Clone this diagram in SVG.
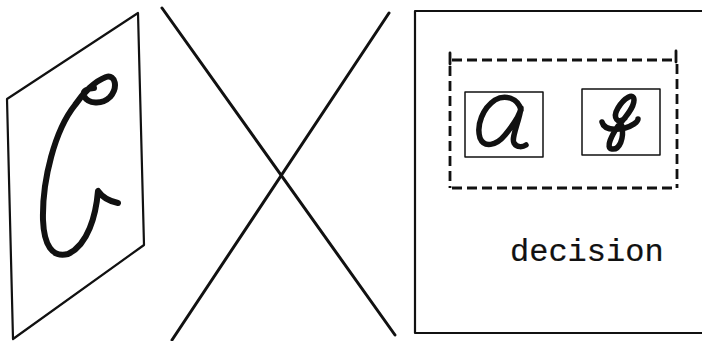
<svg xmlns="http://www.w3.org/2000/svg" width="702" height="341" viewBox="0 0 702 341">
<style>
.ln{stroke:#111;fill:none;stroke-linecap:round;stroke-linejoin:round}
.thin{stroke-width:1.5}
.med{stroke-width:2.2}
.hand{stroke-width:6}
.dash{stroke:#111;fill:none;stroke-width:2.8;stroke-dasharray:10 5}
.lbl{font-family:"Liberation Mono","Courier New",monospace;font-size:32px;fill:#111;stroke:#111;stroke-width:0.2}
</style>
<rect width="702" height="341" fill="#fff"/>
<g id="panel-input">
<polygon class="ln med" points="7,99 138,13 144,245 13,339"/>
<path class="ln hand" d="M118,203 Q104,200 98,191 C96,215 88,245 68,254 C52,258 44,245 43,220 C42,180 55,130 75,105 C83,93 95,81 106,77 C116,74 118,88 110,97 C102,105 88,104 84,96 C82,91 88,88 94,88"/>
</g>
<g id="connectors">
<line class="ln" stroke-width="3" x1="162" y1="8" x2="395" y2="335"/>
<line class="ln" stroke-width="3" x1="389" y1="13" x2="172" y2="340"/>
</g>
<g id="panel-decision">
<rect class="ln med" x="415" y="11" width="300" height="322"/>
<g id="choices">
<line class="dash" x1="452" y1="60" x2="677" y2="60"/>
<line class="dash" x1="450" y1="66" x2="450" y2="188"/>
<line class="dash" x1="677" y1="64" x2="677" y2="188"/>
<line class="dash" x1="452" y1="188" x2="677" y2="188"/>
<line class="ln" stroke-width="2.8" x1="450" y1="53" x2="450" y2="64"/>
<line class="ln" stroke-width="2.8" x1="676" y1="51" x2="676" y2="62"/>
</g>
<g id="choice-a">
<rect class="ln thin" x="465" y="92" width="78" height="65"/>
<path class="ln" stroke-width="5.5" d="M521,110 C518,98 505,94 495,100 C483,108 476,125 480,138 C484,148 496,146 505,135 C514,124 520,115 521,108 C519,122 511,138 514,143 C517,148 523,147 526,145"/>
</g>
<g id="choice-b">
<rect class="ln thin" x="582" y="89" width="78" height="66"/>
<path class="ln" stroke-width="5.5" d="M625,118 C618,125 612,118 618,108 C624,98 634,92 634,100 C634,108 625,118 618,126 C612,135 605,148 612,149 C620,150 624,138 622,126"/>
<path class="ln" stroke-width="5.5" d="M602,122 C604,130 615,130 625,128 C632,126 638,122 638,119"/>
</g>
<text class="lbl" x="510" y="261">decision</text>
</g>
</svg>
